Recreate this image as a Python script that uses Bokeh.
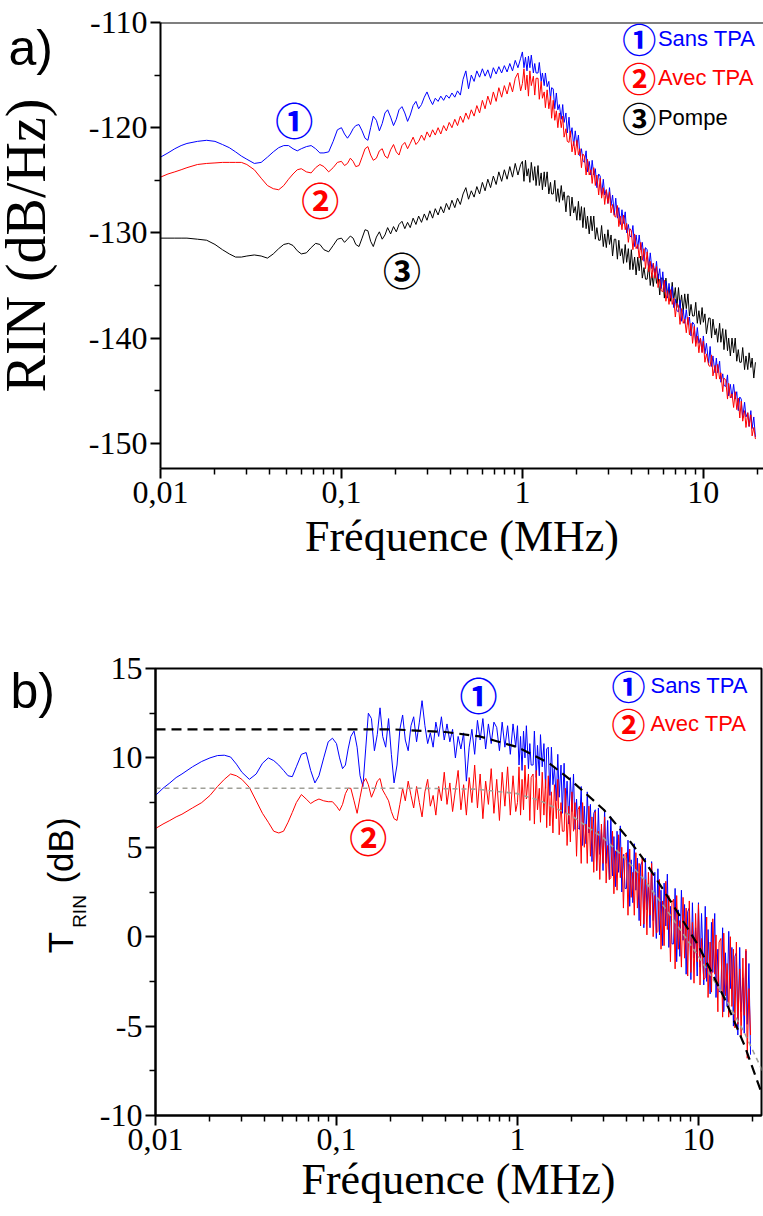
import math
import sys
from bokeh.plotting import figure
from bokeh.models import FixedTicker, Label, Span, Plot
from bokeh.layouts import column, row
from bokeh.embed import file_html
from bokeh.resources import INLINE

# ---------------- data ----------------
FREQ_A = [0.010, 0.011, 0.012, 0.013, 0.014, 0.016, 0.018, 0.020, 0.022, 0.024,
          0.026, 0.028, 0.030, 0.033, 0.036, 0.039, 0.042, 0.045, 0.048, 0.051,
          0.054, 0.057, 0.060, 0.064, 0.068, 0.072, 0.076, 0.080, 0.085, 0.090,
          0.095]
FREQ_B = [0.100, 0.104, 0.108, 0.112, 0.116, 0.120, 0.125, 0.130, 0.135, 0.140,
          0.145, 0.150, 0.156, 0.162, 0.168, 0.174, 0.180, 0.187, 0.194, 0.201,
          0.208, 0.216, 0.224, 0.232, 0.240, 0.249, 0.258, 0.267, 0.277, 0.287,
          0.297, 0.308, 0.319, 0.330, 0.342, 0.354, 0.367, 0.380, 0.394, 0.408,
          0.423, 0.438, 0.454, 0.470, 0.487, 0.504, 0.522, 0.541, 0.560, 0.580,
          0.601, 0.622, 0.644, 0.667, 0.691, 0.716, 0.741, 0.768, 0.795, 0.823,
          0.852, 0.882, 0.913, 0.945, 0.978]
FREQ_C = [1.00, 1.02, 1.04, 1.06, 1.08, 1.10, 1.12, 1.15, 1.17, 1.19,
          1.22, 1.24, 1.27, 1.29, 1.32, 1.34, 1.37, 1.40, 1.43, 1.45,
          1.48, 1.51, 1.54, 1.57, 1.60, 1.64, 1.67, 1.70, 1.74, 1.77,
          1.81, 1.84, 1.88, 1.92, 1.96, 2.00, 2.04, 2.08, 2.12, 2.16,
          2.20, 2.25, 2.29, 2.34, 2.39, 2.43, 2.48, 2.53, 2.58, 2.64,
          2.69, 2.74, 2.80, 2.85, 2.91, 2.97, 3.03, 3.09, 3.15, 3.22,
          3.28, 3.35, 3.41, 3.48, 3.55, 3.62, 3.70, 3.77, 3.85, 3.93,
          4.00, 4.08, 4.17, 4.25, 4.34, 4.42, 4.51, 4.60, 4.70, 4.79,
          4.89, 4.99, 5.09, 5.19, 5.29, 5.40, 5.51, 5.62, 5.74, 5.85,
          5.97, 6.09, 6.21, 6.34, 6.46, 6.60, 6.73, 6.86, 7.00, 7.14,
          7.29, 7.43, 7.58, 7.74, 7.89, 8.05, 8.22, 8.38, 8.55, 8.72,
          8.90, 9.08, 9.26, 9.45, 9.64, 9.84, 10.0, 10.2, 10.4, 10.7,
          10.9, 11.1, 11.3, 11.6, 11.8, 12.0, 12.3, 12.5, 12.8, 13.0,
          13.3, 13.6, 13.8, 14.1, 14.4, 14.7, 15.0, 15.3, 15.6, 15.9,
          16.2, 16.5, 16.9, 17.2, 17.6, 17.9, 18.3, 18.6, 19.0, 19.4]

# panel a) RIN (dB/Hz)
RIN_SANS_A = [-122.8, -122.4, -122.0, -121.7, -121.5, -121.3, -121.2, -121.3, -121.6, -121.9,
              -122.3, -122.7, -123.0, -123.4, -123.3, -122.8, -122.3, -121.9, -121.7, -121.7,
              -122.0, -122.2, -122.0, -121.8, -121.7, -122.0, -122.4, -122.4, -122.3, -121.3,
              -120.2]
RIN_SANS_B = [-120.0, -120.6, -121.0, -120.6, -120.1, -119.8, -119.7, -120.3, -121.0, -121.2,
              -120.0, -118.9, -119.3, -120.3, -119.6, -118.6, -118.3, -119.0, -119.8, -119.2,
              -118.3, -118.0, -118.6, -119.4, -118.8, -117.9, -117.5, -118.2, -117.8, -117.1,
              -116.6, -117.3, -117.8, -117.2, -117.5, -117.0, -117.4, -116.9, -117.2, -116.7,
              -117.1, -116.5, -116.9, -115.4, -114.6, -116.3, -115.0, -115.6, -114.6, -115.2,
              -114.4, -115.1, -114.5, -115.3, -114.3, -114.9, -114.2, -114.8, -114.1, -114.7,
              -113.9, -114.6, -113.6, -114.3, -113.4]
RIN_SANS_C = [-112.8, -114.3, -113.3, -114.6, -113.2, -114.3, -113.1, -114.8, -113.9, -114.8,
              -114.8, -113.8, -115.6, -114.8, -116.0, -114.8, -116.1, -115.6, -117.3, -116.2,
              -116.3, -118.2, -116.7, -118.3, -117.8, -119.2, -117.8, -119.5, -118.6, -120.5,
              -119.0, -120.9, -120.0, -121.7, -120.3, -121.7, -120.7, -122.7, -122.0, -123.1,
              -123.3, -122.2, -124.2, -123.2, -124.5, -123.1, -124.5, -123.9, -125.7, -124.4,
              -124.6, -126.4, -124.9, -126.4, -125.9, -127.2, -125.7, -127.4, -126.4, -128.3,
              -126.7, -128.6, -127.6, -129.2, -127.8, -129.1, -128.0, -130.0, -129.2, -130.3,
              -130.4, -129.3, -131.3, -130.2, -131.5, -130.2, -131.6, -130.9, -132.7, -131.4,
              -131.6, -133.4, -131.9, -133.4, -132.9, -134.2, -132.7, -134.4, -133.4, -135.3,
              -133.7, -135.6, -134.6, -136.2, -134.8, -136.2, -135.1, -137.1, -136.3, -137.4,
              -137.5, -136.4, -138.4, -137.3, -138.6, -137.3, -138.7, -138.0, -139.8, -138.5,
              -138.7, -140.5, -139.0, -140.5, -140.0, -141.3, -139.8, -141.5, -140.5, -142.4,
              -140.8, -142.7, -141.7, -143.3, -141.9, -143.3, -142.2, -144.2, -143.4, -144.5,
              -144.6, -143.5, -145.5, -144.4, -145.7, -144.4, -145.8, -145.1, -146.9, -145.6,
              -145.8, -147.6, -146.1, -147.5, -147.1, -148.4, -146.9, -148.6, -147.5, -149.4]

RIN_AVEC_A = [-124.7, -124.4, -124.2, -124.0, -123.8, -123.5, -123.4, -123.35, -123.3, -123.3,
              -123.3, -123.3, -123.5, -124.0, -124.8, -125.5, -125.8, -125.9, -125.5, -124.9,
              -124.4, -124.0, -123.9, -124.2, -124.3, -123.8, -123.5, -123.7, -124.2, -123.8,
              -123.3]
RIN_AVEC_B = [-123.2, -123.6, -123.4, -122.9, -123.2, -123.7, -123.6, -122.8, -122.0, -121.8,
              -122.6, -123.1, -122.9, -122.2, -122.0, -122.7, -122.9, -122.1, -121.6, -122.3,
              -122.6, -121.7, -121.4, -122.0, -121.5, -120.9, -121.6, -121.3, -120.7, -121.2,
              -120.4, -120.9, -120.2, -120.7, -120.0, -120.6, -119.8, -120.3, -119.5, -120.0,
              -119.2, -119.8, -118.9, -119.5, -118.6, -119.2, -118.3, -118.9, -117.9, -118.6,
              -117.4, -118.2, -117.0, -117.8, -116.6, -117.5, -116.2, -117.1, -116.0, -116.8,
              -115.7, -116.6, -115.3, -114.8, -116.5]
RIN_AVEC_C = [-115.8, -114.4, -116.4, -115.0, -117.0, -114.6, -116.0, -115.1, -116.9, -115.3,
              -115.3, -117.3, -115.6, -117.2, -116.6, -118.1, -116.4, -118.2, -117.0, -119.1,
              -117.4, -119.3, -118.4, -120.0, -118.6, -120.0, -118.9, -120.9, -120.1, -121.3,
              -121.4, -120.3, -122.3, -121.3, -122.6, -121.2, -122.6, -122.0, -123.8, -122.5,
              -122.7, -124.5, -123.0, -124.5, -124.0, -125.3, -123.8, -125.5, -124.5, -126.4,
              -124.8, -126.7, -125.7, -127.3, -125.9, -127.2, -126.1, -128.1, -127.3, -128.4,
              -128.5, -127.4, -129.4, -128.4, -129.7, -128.3, -129.7, -129.1, -130.9, -129.6,
              -129.8, -131.6, -130.1, -131.5, -131.1, -132.4, -130.9, -132.6, -131.5, -133.4,
              -131.8, -133.7, -132.7, -134.3, -132.9, -134.3, -133.2, -135.2, -134.4, -135.5,
              -135.6, -134.5, -136.5, -135.5, -136.8, -135.4, -136.8, -136.2, -138.0, -136.7,
              -136.9, -138.7, -137.2, -138.6, -138.2, -139.5, -138.0, -139.7, -138.6, -140.5,
              -138.9, -140.8, -139.8, -141.4, -140.0, -141.4, -140.3, -142.3, -141.5, -142.6,
              -142.7, -141.6, -143.6, -142.6, -143.9, -142.5, -143.9, -143.3, -145.1, -143.8,
              -144.0, -145.8, -144.3, -145.7, -145.3, -146.6, -145.1, -146.8, -145.7, -147.6,
              -146.0, -147.9, -146.9, -148.5, -147.1, -148.4, -147.3, -149.3, -148.5, -149.6]

RIN_POMPE_A = [-130.5, -130.5, -130.5, -130.5, -130.5, -130.6, -130.7, -131.1, -131.6, -132.0,
               -132.3, -132.3, -132.2, -132.1, -132.2, -132.4, -132.0, -131.5, -131.1, -131.0,
               -131.2, -131.7, -132.0, -131.9, -131.4, -131.0, -131.1, -131.6, -131.8, -131.2,
               -130.6]
RIN_POMPE_B = [-130.5, -130.9, -130.6, -130.3, -130.5, -131.1, -131.3, -130.5, -129.7, -129.8,
               -130.8, -131.3, -130.4, -129.9, -130.6, -130.2, -129.5, -130.1, -129.4, -129.9,
               -129.2, -128.9, -129.6, -129.0, -129.5, -128.6, -129.2, -128.4, -129.0, -128.2,
               -128.8, -127.9, -128.6, -127.7, -128.3, -127.5, -128.1, -127.2, -127.8, -126.9,
               -127.6, -126.7, -127.3, -126.3, -125.7, -126.8, -126.0, -126.6, -125.6, -126.3,
               -125.2, -126.0, -124.9, -125.7, -124.6, -125.4, -124.2, -125.1, -124.0, -124.9,
               -123.7, -124.7, -123.4, -124.5, -123.5]
RIN_POMPE_C = [-123.2, -125.1, -123.1, -124.6, -123.9, -125.2, -123.3, -125.0, -123.7, -125.5,
               -123.6, -125.5, -124.3, -125.9, -124.2, -125.6, -124.2, -126.3, -125.2, -126.3,
               -126.3, -125.0, -127.0, -125.8, -127.1, -125.5, -126.9, -126.1, -128.0, -126.5,
               -126.5, -128.4, -126.6, -128.1, -127.5, -128.8, -127.0, -128.8, -127.5, -129.5,
               -127.6, -129.6, -128.4, -130.1, -128.4, -129.8, -128.4, -130.6, -129.5, -130.7,
               -130.7, -129.3, -131.3, -130.1, -131.4, -129.7, -131.1, -130.2, -132.2, -130.6,
               -130.6, -132.5, -130.7, -132.2, -131.5, -132.9, -131.1, -132.8, -131.5, -133.5,
               -131.6, -133.5, -132.3, -134.0, -132.3, -133.6, -132.2, -134.3, -133.3, -134.4,
               -134.4, -133.0, -135.0, -133.8, -135.1, -133.4, -134.8, -133.9, -135.9, -134.3,
               -134.3, -136.2, -134.3, -135.9, -135.2, -136.5, -134.7, -136.4, -135.2, -137.1,
               -135.2, -137.1, -135.9, -137.5, -135.8, -137.2, -135.8, -137.9, -136.8, -137.9,
               -137.9, -136.6, -138.6, -137.4, -138.7, -137.1, -138.5, -137.7, -139.6, -138.1,
               -138.1, -140.0, -138.2, -139.7, -139.1, -140.4, -138.6, -140.4, -139.1, -141.1,
               -139.2, -141.2, -140.0, -141.7, -140.0, -141.4, -140.0, -142.2, -141.1, -142.3,
               -142.3, -140.9, -143.0, -141.7, -143.0, -141.4, -142.8, -141.9, -143.8, -142.3]

# panel b) T_RIN (dB)
T_SANS_A = [7.9, 8.3, 8.6, 8.9, 9.1, 9.5, 9.8, 10.0, 10.13, 10.15,
            10.05, 9.65, 9.2, 8.8, 9.1, 9.7, 10.0, 9.85, 9.6, 9.3,
            9.0, 8.95, 9.5, 10.2, 10.3, 9.3, 8.6, 9.0, 10.0, 10.9,
            11.1]
T_SANS_B = [10.8, 10.0, 9.4, 9.6, 10.5, 11.2, 11.5, 10.6, 9.0, 8.4,
            10.5, 12.5, 12.2, 10.4, 11.3, 12.8, 11.2, 10.6, 12.2, 10.2,
            8.6, 9.6, 11.6, 12.4, 11.0, 10.4, 11.8, 12.3, 10.9, 12.0,
            13.2, 11.8, 10.8, 11.4, 10.6, 12.0, 11.2, 12.3, 11.0, 11.9,
            10.9, 11.6, 10.0, 11.2, 10.5, 11.4, 8.7, 10.6, 11.6, 10.2,
            12.1, 11.0, 12.2, 10.5, 11.9, 10.8, 12.0, 11.7, 10.4, 12.0,
            10.6, 11.8, 10.2, 11.9, 10.6]
T_SANS_C = [11.8, 9.6, 11.2, 9.3, 11.5, 10.0, 11.8, 9.4, 10.8, 9.6,
            9.6, 11.5, 8.9, 10.7, 9.0, 11.3, 9.5, 10.8, 8.3, 10.5,
            10.6, 7.9, 10.6, 8.5, 9.5, 7.6, 10.2, 7.8, 9.6, 6.9,
            9.7, 6.9, 8.7, 6.3, 8.9, 7.0, 9.1, 6.0, 7.7, 6.1,
            6.0, 8.4, 5.1, 7.3, 5.2, 8.1, 5.8, 7.4, 4.2, 6.9,
            7.1, 3.7, 7.2, 4.6, 6.0, 3.7, 7.1, 4.1, 6.5, 3.2,
            6.7, 3.4, 5.6, 2.8, 5.9, 3.6, 6.2, 2.5, 4.6, 2.7,
            2.7, 5.4, 1.7, 4.3, 1.9, 5.2, 2.6, 4.4, 0.9, 4.0,
            4.2, 0.5, 4.4, 1.5, 3.0, 0.5, 4.2, 0.9, 3.6, -0.1,
            3.8, 0.1, 2.6, -0.5, 3.0, 0.6, 3.5, -0.6, 1.7, -0.4,
            -0.4, 2.7, -1.4, 1.5, -1.1, 2.6, -0.2, 1.8, -2.1, 1.4,
            1.6, -2.4, 1.9, -1.2, 0.5, -2.2, 1.9, -1.7, 1.3, -2.7,
            1.7, -2.5, 0.4, -3.2, 0.8, -2.0, 1.3, -3.4, -0.7, -3.1,
            -3.0, 0.5, -4.2, -0.9, -3.9, 0.3, -2.9, -0.6, -5.0, -1.1,
            -0.9, -5.5, -0.6, -4.2, -2.3, -5.4, -0.8, -4.9, -1.5, -6.6]

T_AVEC_A = [6.05, 6.3, 6.5, 6.7, 6.85, 7.2, 7.5, 7.9, 8.4, 8.8,
            9.1, 9.0, 8.8, 8.35, 7.6, 6.9, 6.4, 5.9, 5.8, 5.9,
            6.4, 6.95, 7.5, 7.95, 7.7, 7.45, 7.6, 7.7, 7.6, 7.55,
            7.55]
T_AVEC_B = [7.3, 7.05, 7.4, 8.0, 8.3, 8.3, 7.6, 6.9, 7.8, 8.6,
            8.85, 8.5, 7.8, 8.2, 8.7, 8.85, 8.2, 7.9, 7.6, 7.0,
            6.6, 6.5, 7.4, 8.3, 7.6, 8.7, 7.9, 7.2, 8.4, 7.5,
            6.7, 8.1, 8.8, 7.3, 7.9, 6.8, 8.4, 7.6, 9.2, 7.4,
            8.6, 7.0, 8.2, 9.3, 7.1, 8.5, 6.8, 8.9, 7.5, 9.6,
            7.2, 9.1, 6.6, 8.7, 7.4, 9.4, 6.9, 8.8, 6.5, 9.2,
            7.3, 9.5, 6.8, 9.0, 7.0]
T_AVEC_C = [7.5, 9.5, 6.8, 8.8, 7.1, 9.6, 7.7, 9.1, 6.5, 8.9,
            9.1, 6.3, 9.3, 7.1, 8.3, 6.4, 9.2, 6.8, 8.8, 6.1,
            9.0, 6.2, 8.1, 5.8, 8.5, 6.6, 8.8, 5.7, 7.5, 5.9,
            5.9, 8.3, 5.1, 7.3, 5.3, 8.1, 5.9, 7.5, 4.5, 7.1,
            7.3, 4.1, 7.5, 5.0, 6.3, 4.1, 7.3, 4.5, 6.7, 3.6,
            7.0, 3.7, 5.9, 3.2, 6.3, 4.1, 6.7, 3.0, 5.1, 3.2,
            3.3, 5.9, 2.4, 4.8, 2.6, 5.7, 3.3, 5.0, 1.6, 4.6,
            4.7, 1.2, 4.9, 2.2, 3.6, 1.2, 4.7, 1.6, 4.1, 0.6,
            4.4, 0.7, 3.2, 0.1, 3.6, 1.2, 4.1, 0.0, 2.3, 0.2,
            0.3, 3.2, -0.7, 2.0, -0.5, 3.1, 0.4, 2.3, -1.4, 1.9,
            2.1, -1.8, 2.3, -0.7, 0.9, -1.7, 2.2, -1.2, 1.6, -2.2,
            2.0, -2.0, 0.8, -2.6, 1.3, -1.4, 1.8, -2.7, -0.1, -2.4,
            -2.3, 1.1, -3.4, -0.3, -3.1, 1.0, -2.1, 0.1, -4.2, -0.3,
            -0.1, -4.5, 0.2, -3.3, -1.5, -4.5, 0.0, -3.9, -0.7, -5.1,
            -0.3, -4.9, -1.8, -5.6, -1.2, -4.4, -0.7, -6.8, -2.9, -5.5]

FIT_SANS_F = [0.01, 0.2, 0.4, 0.62, 1.0, 1.5, 2.0, 3.0, 4.0, 5.0, 7.0, 10, 14, 18, 22.8]
FIT_SANS_T = [11.6, 11.6, 11.45, 11.2, 10.6, 9.7, 8.7, 7.1, 5.6, 4.3, 2.0, -0.5, -3.5, -6.1, -9.0]
FIT_AVEC_F = [0.01, 0.3, 0.6, 1.0, 1.34, 2.0, 3.0, 4.0, 5.0, 7.0, 10, 14, 18, 22.8]
FIT_AVEC_T = [8.3, 8.3, 8.25, 8.0, 7.6, 6.75, 5.5, 4.3, 3.2, 1.2, -1.1, -3.4, -5.4, -7.6]

X_TICKS = [0.01, 0.1, 1, 10]
X_TICK_LABELS = ["0,01", "0,1", "1", "10"]
X_MINOR = [0.02, 0.03, 0.04, 0.05, 0.06, 0.07, 0.08, 0.09,
           0.2, 0.3, 0.4, 0.5, 0.6, 0.7, 0.8, 0.9,
           2, 3, 4, 5, 6, 7, 8, 9, 20]
RIN_TICKS = [-150, -140, -130, -120, -110]
RIN_TICK_LABELS = ["-150", "-140", "-130", "-120", "-110"]
RIN_MINOR = [-145, -135, -125, -115]
T_TICKS = [-10, -5, 0, 5, 10, 15]
T_TICK_LABELS = ["-10", "-5", "0", "5", "10", "15"]
T_MINOR = [-7.5, -2.5, 2.5, 7.5, 12.5]

FREQ = FREQ_A + FREQ_B + FREQ_C

BLUE = "#0000ff"
RED = "#ff0000"
BLACK = "#000000"
SERIF = "Liberation Serif"
SANS = "Liberation Sans"
CIRC = "Noto Sans CJK JP"

HAS_FA = "frame_align" in Plot.properties()


def pair(xs, ys, name):
    if len(xs) != len(ys):
        print("length mismatch", name, len(xs), len(ys), file=sys.stderr)
    n = min(len(xs), len(ys))
    return xs[:n], ys[:n]


def style(p, yticks, ylabels, yminor):
    p.xaxis.ticker = FixedTicker(ticks=X_TICKS, minor_ticks=X_MINOR)
    p.xaxis.major_label_overrides = dict(zip(X_TICKS, X_TICK_LABELS))
    p.yaxis.ticker = FixedTicker(ticks=yticks, minor_ticks=yminor)
    p.yaxis.major_label_overrides = dict(zip(yticks, ylabels))
    for ax in (p.xaxis[0], p.yaxis[0]):
        ax.axis_line_width = 2
        ax.axis_line_color = "black"
        ax.major_tick_line_width = 2
        ax.minor_tick_line_width = 1.5
        ax.major_tick_out = 10
        ax.major_tick_in = 0
        ax.minor_tick_out = 6
        ax.minor_tick_in = 0
        ax.major_label_text_font = SERIF
        ax.major_label_text_font_size = "32px"
        ax.major_label_text_color = "black"
        ax.major_label_standoff = 3
        ax.axis_label_text_font = SERIF
        ax.axis_label_text_font_style = "normal"
        ax.axis_label_text_color = "black"
    p.xgrid.visible = False
    p.ygrid.visible = False
    p.background_fill_color = "white"
    p.border_fill_color = "white"
    if HAS_FA:
        p.frame_align = False


def text_panel(w, h, top, bottom):
    # a blank panel whose frame maps 1:1 to pixels, holding the outer texts
    fh = h - top - bottom
    q = figure(width=w, height=h, x_range=(0, w), y_range=(0, fh), title=None,
               output_backend="svg", toolbar_location=None,
               min_border_left=0, min_border_right=0,
               min_border_top=top, min_border_bottom=bottom)
    q.xaxis.visible = False
    q.yaxis.visible = False
    q.xgrid.visible = False
    q.ygrid.visible = False
    q.outline_line_color = None
    q.background_fill_color = "white"
    q.border_fill_color = "white"
    if HAS_FA:
        q.frame_align = False
    return q


# ---------------- panel a) ----------------
p1 = figure(width=678, height=600, x_axis_type="log",
            x_range=(0.01, 21.5), y_range=(-152.4, -110),
            output_backend="svg", toolbar_location=None,
            min_border_left=73, min_border_right=0,
            min_border_top=22, min_border_bottom=132)
style(p1, RIN_TICKS, RIN_TICK_LABELS, RIN_MINOR)
p1.outline_line_color = None
p1.add_layout(Span(location=-110, dimension="width", line_color="black", line_width=2))
p1.xaxis.axis_label = "Fréquence (MHz)"
p1.xaxis.axis_label_text_font_size = "44px"
p1.xaxis.axis_label_standoff = 6

for ys, col, nm in ((RIN_POMPE_A + RIN_POMPE_B + RIN_POMPE_C, BLACK, "pompe"),
                    (RIN_SANS_A + RIN_SANS_B + RIN_SANS_C, BLUE, "sans"),
                    (RIN_AVEC_A + RIN_AVEC_B + RIN_AVEC_C, RED, "avec")):
    xx, yy = pair(FREQ, ys, nm)
    p1.line(xx, yy, line_color=col, line_width=1)

for (fx, vy, t, c) in ((0.0548, -119.1, "①", BLUE), (0.0763, -126.7, "②", RED),
                       (0.216, -133.4, "③", BLACK)):
    p1.add_layout(Label(x=fx, y=vy, text=t, text_font=CIRC, text_font_size="38px",
                        text_font_style="bold", text_color=c,
                        text_align="center", text_baseline="middle"))

for (vy, t, name, c) in ((-111.55, "①", "Sans TPA", BLUE),
                         (-115.27, "②", "Avec TPA", RED),
                         (-118.99, "③", "Pompe", BLACK)):
    p1.add_layout(Label(x=4.42, y=vy, text=t, text_font=CIRC, text_font_size="34px",
                        text_font_style="bold", text_color=c,
                        text_align="center", text_baseline="middle"))
    p1.add_layout(Label(x=5.61, y=vy, text=name, text_font=SANS, text_font_size="22px",
                        text_color=c, text_align="left", text_baseline="middle"))

# outer text column for panel a): page y -> panel y
if HAS_FA:
    la = text_panel(85, 600, 0, 0)
    a_bottom = 600          # page y of the panel frame bottom
    a_base = 47
else:
    la = text_panel(85, 600, 22, 132)
    a_bottom = 468
    a_base = 56
la.add_layout(Label(x=8, y=a_bottom - a_base, text="a)", text_font=SANS,
                    text_font_size="50px", text_color="black",
                    text_align="left", text_baseline="alphabetic"))
la.add_layout(Label(x=25, y=a_bottom - 245, text="RIN (dB/Hz)", angle=math.pi / 2,
                    text_font=SERIF, text_font_size="56px", text_color="black",
                    text_align="center", text_baseline="middle"))

# ---------------- panel b) ----------------
p2 = figure(width=675, height=616, x_axis_type="log",
            x_range=(0.01, 22.3), y_range=(-10, 15),
            output_backend="svg", toolbar_location=None,
            min_border_left=67, min_border_right=2,
            min_border_top=68, min_border_bottom=101)
style(p2, T_TICKS, T_TICK_LABELS, T_MINOR)
p2.outline_line_color = "black"
p2.outline_line_width = 2
p2.xaxis.axis_label = "Fréquence (MHz)"
p2.xaxis.axis_label_text_font_size = "44px"
p2.xaxis.axis_label_standoff = 2

for ys, col, nm in ((T_SANS_A + T_SANS_B + T_SANS_C, BLUE, "tsans"),
                    (T_AVEC_A + T_AVEC_B + T_AVEC_C, RED, "tavec")):
    xx, yy = pair(FREQ, ys, nm)
    p2.line(xx, yy, line_color=col, line_width=1)

xx, yy = pair(FIT_AVEC_F, FIT_AVEC_T, "fitavec")
p2.line(xx, yy, line_color="#a0a098", line_width=1.6, line_dash="5 4")
xx, yy = pair(FIT_SANS_F, FIT_SANS_T, "fitsans")
p2.line(xx, yy, line_color="black", line_width=2.2, line_dash="10 6")

for (fx, vy, t, c) in ((0.609, 13.6, "①", BLUE), (0.150, 5.66, "②", RED)):
    p2.add_layout(Label(x=fx, y=vy, text=t, text_font=CIRC, text_font_size="38px",
                        text_font_style="bold", text_color=c,
                        text_align="center", text_baseline="middle"))

for (vy, t, name, c) in ((14.05, "①", "Sans TPA", BLUE), (11.92, "②", "Avec TPA", RED)):
    p2.add_layout(Label(x=4.10, y=vy, text=t, text_font=CIRC, text_font_size="34px",
                        text_font_style="bold", text_color=c,
                        text_align="center", text_baseline="middle"))
    p2.add_layout(Label(x=5.43, y=vy, text=name, text_font=SANS, text_font_size="22px",
                        text_color=c, text_align="left", text_baseline="middle"))

if HAS_FA:
    lb = text_panel(88, 616, 0, 0)
    b_bottom = 1216
    b_base = 690
else:
    lb = text_panel(88, 616, 68, 101)
    b_bottom = 1115
    b_base = 705
lb.add_layout(Label(x=10, y=b_bottom - b_base, text="b)", text_font=SANS,
                    text_font_size="50px", text_color="black",
                    text_align="left", text_baseline="alphabetic"))
# y-axis title T_RIN (dB), built from pieces to get the subscript
lb.add_layout(Label(x=60, y=b_bottom - 942, text="T", angle=math.pi / 2,
                    text_font=SANS, text_font_size="35px", text_color="black",
                    text_align="center", text_baseline="middle"))
lb.add_layout(Label(x=79, y=b_bottom - 911, text="RIN", angle=math.pi / 2,
                    text_font=SANS, text_font_size="19px", text_color="black",
                    text_align="center", text_baseline="middle"))
lb.add_layout(Label(x=60, y=b_bottom - 850, text="(dB)", angle=math.pi / 2,
                    text_font=SANS, text_font_size="35px", text_color="black",
                    text_align="center", text_baseline="middle"))

layout = column(row(la, p1, spacing=0), row(lb, p2, spacing=0), spacing=0)
open("out.html", "w").write(file_html(layout, INLINE))
